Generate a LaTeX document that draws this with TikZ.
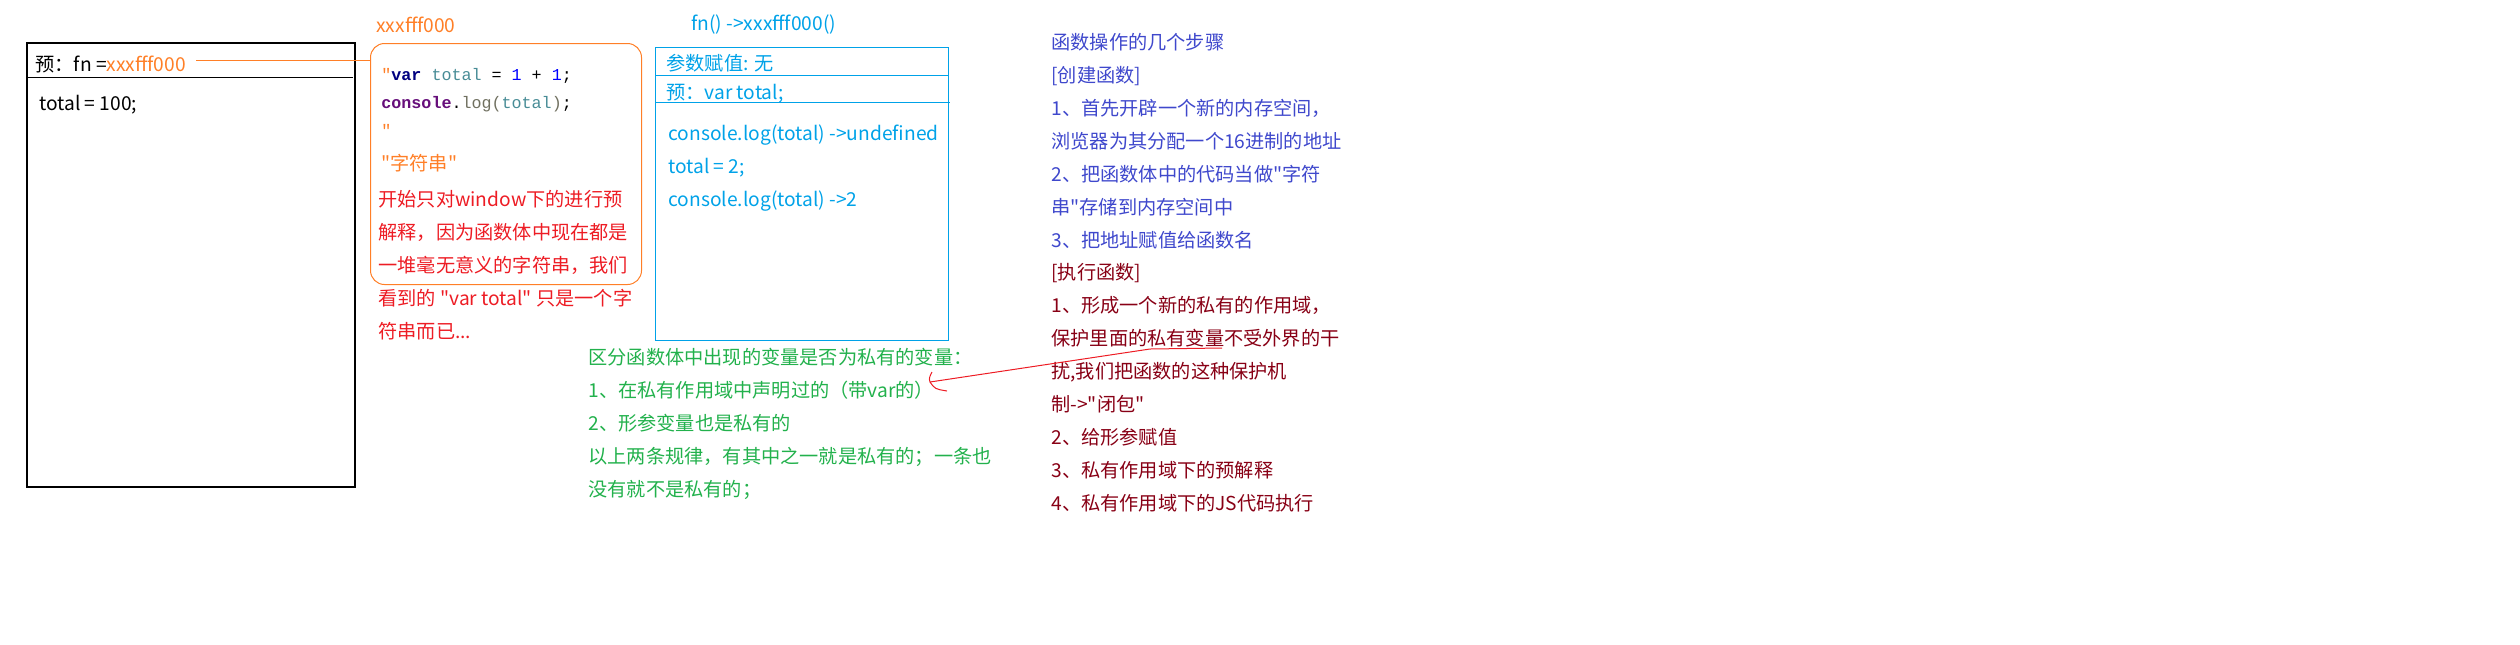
\documentclass[tikz,border=0pt]{standalone}
\usepackage{fontspec}
\setmainfont{Noto Sans CJK SC}
\newfontfamily\cjk{Noto Sans CJK SC}
\newfontfamily\codefont{Liberation Mono}
\usetikzlibrary{positioning}
\definecolor{paintorange}{RGB}{255,127,39}
\definecolor{paintblue}{RGB}{0,162,232}
\definecolor{paintred}{RGB}{237,28,36}
\definecolor{paintgreen}{RGB}{34,177,76}
\definecolor{stepblue}{RGB}{63,72,204}
\definecolor{stepred}{RGB}{136,0,21}
\definecolor{kwnavy}{RGB}{0,0,128}
\definecolor{identteal}{RGB}{72,140,150}
\definecolor{numblue}{RGB}{0,0,255}
\definecolor{objpurple}{RGB}{102,14,122}
\definecolor{fngrey}{RGB}{112,112,96}

\begin{document}
\begin{tikzpicture}[x=0.5pt,y=-0.5pt,
        txt/.style={anchor=base west,inner sep=0pt,align=left,font=\cjk\fontsize{9.6}{16.43}\selectfont},
        code/.style={anchor=base west,inner sep=0pt,font=\codefont\fontsize{8.35}{10}\selectfont},
        frame/.style={draw,anchor=north west,inner sep=0pt,line width=0.5pt}]
        \useasboundingbox (0,0) rectangle (2520,644);
        \node[frame,line width=0.75pt,minimum width=164pt,minimum height=222pt] (win) at (26,42) {};
        \draw[line width=0.5pt] (26,77) -- (353,77);
        \node[txt] (fnlabel) at (35,71) {预：fn =\textcolor{paintorange}{xxxfff000}};
        \node[txt] (total) at (39,110) {total = 100;};
        \node[frame,draw=paintorange,rounded corners=7pt,minimum width=135.5pt,minimum height=120.5pt] (strbox) at (370,43) {};
        \node[txt,paintorange] (addr) at (376,32) {xxxfff000};
        \coordinate (fnend) at ([xshift=5pt,yshift=1.5pt]fnlabel.east);
        \draw[paintorange,line width=0.5pt] (fnend) -- (fnend -| strbox.west);
        \node[code] (c1) at (381,80) {\textcolor{paintorange}{"}\textbf{\textcolor{kwnavy}{var}} \textcolor{identteal}{total} = \textcolor{numblue}{1} + \textcolor{numblue}{1};};
        \node[code] (c2) at (381,108) {\textbf{\textcolor{objpurple}{console}}.\textcolor{fngrey}{log(}\textcolor{identteal}{total}\textcolor{fngrey}{)};};
        \node[code,paintorange] (c3) at (381,136) {"};
        \node[txt,paintorange] (strlbl) at (381,170) {"字符串"};
        \node[txt,paintred] (note) at (378,338) {开始只对window下的进行预\\解释，因为函数体中现在都是\\一堆毫无意义的字符串，我们\\看到的 "var total" 只是一个字\\符串而已...};
        \node[frame,draw=paintblue,minimum width=146.5pt,minimum height=146.5pt] (privbox) at (655,47) {};
        \draw[paintblue,line width=0.5pt] (655,75) -- (948,75) (655,102) -- (950,102);
        \node[txt,paintblue] (call) at (691,30) {fn() ->xxxfff000()};
        \node[txt,paintblue] (args) at (666,70) {参数赋值: 无};
        \node[txt,paintblue] (pre) at (666,99) {预：var total;};
        \node[txt,paintblue] (run) at (668,206) {console.log(total) ->undefined\\total = 2;\\console.log(total) ->2};
        \node[txt,paintgreen] (rules) at (588,496) {区分函数体中出现的变量是否为私有的变量：\\1、在私有作用域中声明过的（带var的）\\2、形参变量也是私有的\\以上两条规律，有其中之一就是私有的；一条也\\没有就不是私有的；};
        \node[txt,stepblue] (create) at (1051,247) {函数操作的几个步骤\\{[创建函数]}\\1、首先开辟一个新的内存空间，\\浏览器为其分配一个16进制的地址\\2、把函数体中的代码当做"字符\\串"存储到内存空间中\\3、把地址赋值给函数名};
        \node[txt,stepred] (exec) at (1051,510) {[执行函数]\\1、形成一个新的私有的作用域，\\保护里面的私有变量不受外界的干\\扰,我们把函数的这种保护机\\制->"闭包"\\2、给形参赋值\\3、私有作用域下的预解释\\4、私有作用域下的JS代码执行};
        \coordinate (tip) at (930,382);
        \coordinate (ulstart) at (1150,349);
        \coordinate (ulend) at (1222,348);
        \draw[paintred,line width=0.5pt] (tip) -- (ulstart) -- (ulend);
        \draw[paintred,line width=0.5pt] ([shift={(2,-10)}]tip) .. controls ([shift={(-1,-4)}]tip) .. (tip) .. controls ([shift={(5,7)}]tip) .. ([shift={(17,9)}]tip);
      \end{tikzpicture}
\end{document}
